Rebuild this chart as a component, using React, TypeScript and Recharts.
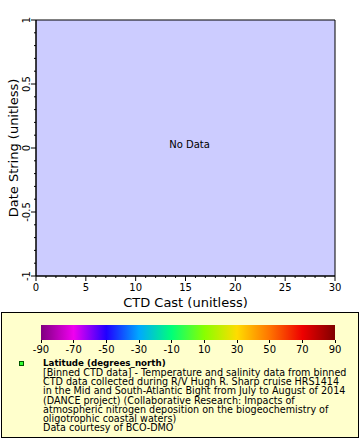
import React from 'react';
import { ComposedChart, Scatter, XAxis, YAxis, ReferenceArea } from 'recharts';

const castTicks = [0, 5, 10, 15, 20, 25, 30];
const castMinorTicks = [
  0, 1, 2, 3, 4, 5, 6, 7, 8, 9, 10, 11, 12, 13, 14, 15,
  16, 17, 18, 19, 20, 21, 22, 23, 24, 25, 26, 27, 28, 29, 30,
];
const dateTicks = [-1, -0.5, 0, 0.5, 1];
const dateMinorTicks = [
  -1, -0.9, -0.8, -0.7, -0.6, -0.5, -0.4, -0.3, -0.2, -0.1, 0,
  0.1, 0.2, 0.3, 0.4, 0.5, 0.6, 0.7, 0.8, 0.9, 1,
];
const points: { cast: number; date: number }[] = [];

const latTicks = [-90, -70, -50, -30, -10, 10, 30, 50, 70, 90];
const latColors = [
  '#800080', '#f000f0', '#2000ff', '#00a8ff', '#00ff78',
  '#88ff00', '#ffdc00', '#ff7400', '#ee0000', '#800000',
];

const legendTitle = 'Latitude (degrees_north)';
const legendLines = [
  '[Binned CTD data] - Temperature and salinity data from binned',
  'CTD data collected during R/V Hugh R. Sharp cruise HRS1414',
  'in the Mid and South-Atlantic Bight from July to August of 2014',
  '(DANCE project) (Collaborative Research: Impacts of',
  'atmospheric nitrogen deposition on the biogeochemistry of',
  'oligotrophic coastal waters)',
  'Data courtesy of BCO-DMO',
];

const font = 'DejaVu Sans';

const CastTick = (props: any) => {
  const { x, y, payload } = props;
  const major = castTicks.includes(payload.value);
  return (
    <g>
      <line x1={x} x2={x} y1={y} y2={y + (major ? 5 : 2)} stroke="#000" />
      {major && (
        <text x={x} y={y + 15} textAnchor="middle" fontSize={10} fontFamily={font} fill="#000">
          {payload.value}
        </text>
      )}
    </g>
  );
};

const DateTick = (props: any) => {
  const { x, y, payload } = props;
  const major = dateTicks.includes(payload.value);
  return (
    <g>
      <line x1={x} x2={x - (major ? 5 : 2)} y1={y} y2={y} stroke="#000" />
      {major && (
        <text
          transform={`translate(${x - 6},${y}) rotate(-90)`}
          textAnchor="middle"
          fontSize={10}
          fontFamily={font}
          fill="#000"
        >
          {payload.value}
        </text>
      )}
    </g>
  );
};

export default function App() {
  const barLeft = 41;
  const barWidth = 294;
  const gradient = `linear-gradient(to right, ${latColors.join(', ')})`;

  return (
    <div style={{ position: 'absolute', left: 0, top: 0, width: 360, height: 440, background: '#fff', fontFamily: font, overflow: 'hidden' }}>
      <ComposedChart width={360} height={310} margin={{ top: 20, right: 25, bottom: 0, left: 0 }}>
        <XAxis
          type="number"
          dataKey="cast"
          domain={[0, 30]}
          ticks={castMinorTicks}
          interval={0}
          allowDataOverflow
          tickLine={false}
          tickSize={0}
          tickMargin={0}
          height={34}
          axisLine={{ stroke: '#000' }}
          tick={<CastTick />}
        />
        <YAxis
          type="number"
          dataKey="date"
          domain={[-1, 1]}
          ticks={dateMinorTicks}
          interval={0}
          allowDataOverflow
          tickLine={false}
          tickSize={0}
          tickMargin={0}
          width={36}
          axisLine={{ stroke: '#000' }}
          tick={<DateTick />}
        />
        <ReferenceArea
          x1={0}
          x2={30}
          y1={-1}
          y2={1}
          fill="#ccccff"
          fillOpacity={1}
          stroke="#000"
          label={{ value: 'No Data', position: 'center', fontSize: 10, fontFamily: font, fill: '#000', dx: 4, dy: -4 }}
        />
        <Scatter data={points} fill="#33ff33" isAnimationActive={false} />
      </ComposedChart>

      <div style={{ position: 'absolute', left: 36, width: 299, top: 295, textAlign: 'center', fontSize: 13, lineHeight: '16px' }}>
        CTD Cast (unitless)
      </div>
      <div style={{ position: 'absolute', left: 14, top: 148, width: 0, height: 0 }}>
        <div style={{ position: 'absolute', left: -100, top: -8, width: 200, textAlign: 'center', fontSize: 13, lineHeight: '16px', transform: 'rotate(-90deg)', whiteSpace: 'nowrap' }}>
          Date String (unitless)
        </div>
      </div>

      <div style={{ position: 'absolute', left: 1, top: 312, width: 358, height: 126, boxSizing: 'border-box', border: '1px solid #000', background: '#ffffcc' }} />
      <div style={{ position: 'absolute', left: barLeft, top: 325, width: barWidth, height: 15, background: gradient }} />
      {latTicks.map((t, i) => {
        const x = barLeft + (i * barWidth) / (latTicks.length - 1);
        return (
          <React.Fragment key={t}>
            <div style={{ position: 'absolute', left: x - 0.5, top: 340, width: 1, height: 3, background: '#000' }} />
            <div style={{ position: 'absolute', left: x - 20, width: 40, top: 344, textAlign: 'center', fontSize: 10, lineHeight: '12px' }}>
              {t}
            </div>
          </React.Fragment>
        );
      })}
      <div style={{ position: 'absolute', left: 19, top: 361, width: 5, height: 5, boxSizing: 'border-box', border: '1px solid #005500', background: '#33ff33' }} />
      <div style={{ position: 'absolute', left: 43, top: 358, fontSize: 9.6, lineHeight: '9.15px', whiteSpace: 'nowrap' }}>
        <b style={{ fontSize: 8.7 }}>{legendTitle}</b>
        {legendLines.map((l) => (
          <React.Fragment key={l}>
            <br />
            {l}
          </React.Fragment>
        ))}
      </div>
    </div>
  );
}
